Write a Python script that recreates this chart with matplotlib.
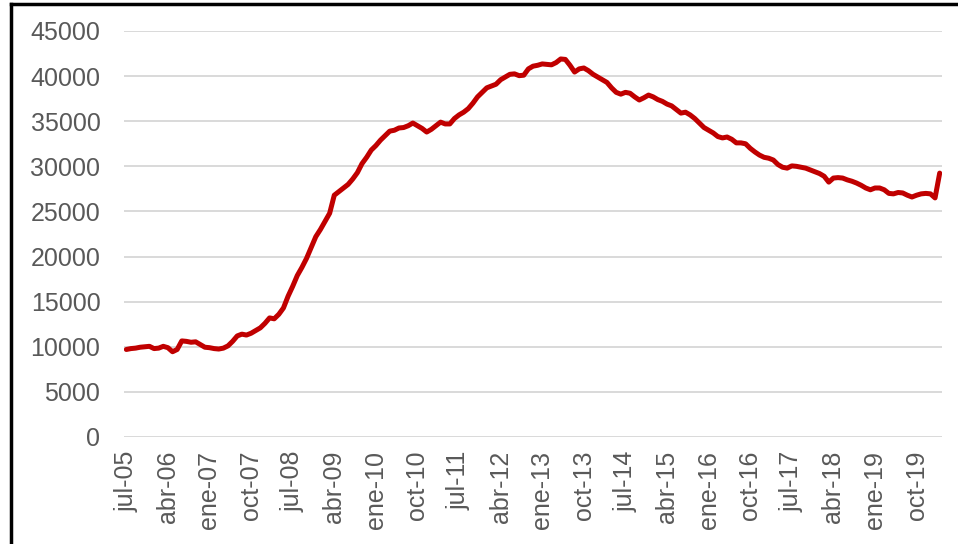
import matplotlib
matplotlib.use("Agg")
import matplotlib.pyplot as plt
from matplotlib.lines import Line2D

# Monthly series, jul-05 .. mar-20
values = [
    9700, 9800, 9850, 9950, 10000, 10050,            # jul-05 .. dic-05
    9800, 9850, 10050, 9900, 9450, 9700, 10650, 10600, 10500, 10550, 10250, 9950,   # 2006
    9900, 9800, 9750, 9850, 10100, 10600, 11200, 11400, 11300, 11500, 11800, 12100, # 2007
    12600, 13200, 13100, 13600, 14300, 15600, 16700, 17900, 18800, 19800, 21000, 22200,  # 2008
    23000, 23900, 24800, 26800, 27200, 27600, 28000, 28600, 29300, 30300, 31000, 31800,  # 2009
    32300, 32900, 33400, 33900, 34000, 34250, 34300, 34500, 34800, 34500, 34200, 33800,  # 2010
    34100, 34500, 34900, 34700, 34700, 35300, 35700, 36000, 36400, 37000, 37700, 38200,  # 2011
    38700, 38900, 39100, 39600, 39900, 40200, 40250, 40050, 40100, 40800, 41100, 41200,  # 2012
    41350, 41300, 41250, 41500, 41900, 41850, 41200, 40450, 40800, 40900, 40600, 40200,  # 2013
    39900, 39600, 39300, 38700, 38200, 38000, 38200, 38100, 37700, 37350, 37600, 37900,  # 2014
    37700, 37400, 37200, 36900, 36700, 36300, 35900, 36000, 35700, 35300, 34800, 34300,  # 2015
    34000, 33700, 33300, 33150, 33250, 33000, 32600, 32600, 32500, 32000, 31600, 31250,  # 2016
    31000, 30900, 30700, 30200, 29900, 29800, 30050, 30000, 29900, 29800, 29600, 29400,  # 2017
    29200, 28900, 28250, 28700, 28750, 28700, 28500, 28350, 28150, 27900, 27600, 27400,  # 2018
    27600, 27600, 27400, 27000, 26950, 27100, 27050, 26800, 26600, 26800, 26950, 27000,  # 2019
    26950, 26500, 29250,                                                              # 2020
]

tick_labels = ["jul-05", "abr-06", "ene-07", "oct-07", "jul-08", "abr-09", "ene-10",
               "oct-10", "jul-11", "abr-12", "ene-13", "oct-13", "jul-14", "abr-15",
               "ene-16", "oct-16", "jul-17", "abr-18", "ene-19", "oct-19"]
tick_step = 9
y_ticks = [0, 5000, 10000, 15000, 20000, 25000, 30000, 35000, 40000, 45000]

plt.rcParams['font.family'] = ['Liberation Sans', 'DejaVu Sans']

W, H = 958, 544
fig = plt.figure(figsize=(W / 100, H / 100), dpi=100)
ax = fig.add_axes([124 / W, 1 - 437 / H, (942 - 124) / W, (437 - 31) / H])

x = list(range(len(values)))
ax.plot(x, values, color="#c00000", linewidth=3.6, solid_joinstyle="round",
        solid_capstyle="round", zorder=3)

ax.set_xlim(-0.5, len(values) - 0.5)
ax.set_ylim(0, 45000)
ax.set_yticks(y_ticks)
ax.set_yticklabels([str(v) for v in y_ticks])
ax.set_xticks([i * tick_step for i in range(len(tick_labels))])
ax.set_xticklabels(tick_labels, rotation=90)

ax.grid(axis="y", color="#d9d9d9", linewidth=1.4, zorder=0)
ax.grid(axis="x", visible=False)
for s in ax.spines.values():
    s.set_visible(False)
ax.tick_params(axis="both", length=0, labelsize=18, colors="#595959")
ax.tick_params(axis="y", pad=17)
ax.tick_params(axis="x", pad=10)

# black frame (left and top edges visible)
fig.add_artist(Line2D([11 / W, 11 / W], [0, 1 - 4 / H], transform=fig.transFigure,
                      color="black", linewidth=2.5))
fig.add_artist(Line2D([11 / W, 1], [1 - 4 / H, 1 - 4 / H], transform=fig.transFigure,
                      color="black", linewidth=2.5))

fig.savefig("out.png", dpi=100, facecolor="white")
